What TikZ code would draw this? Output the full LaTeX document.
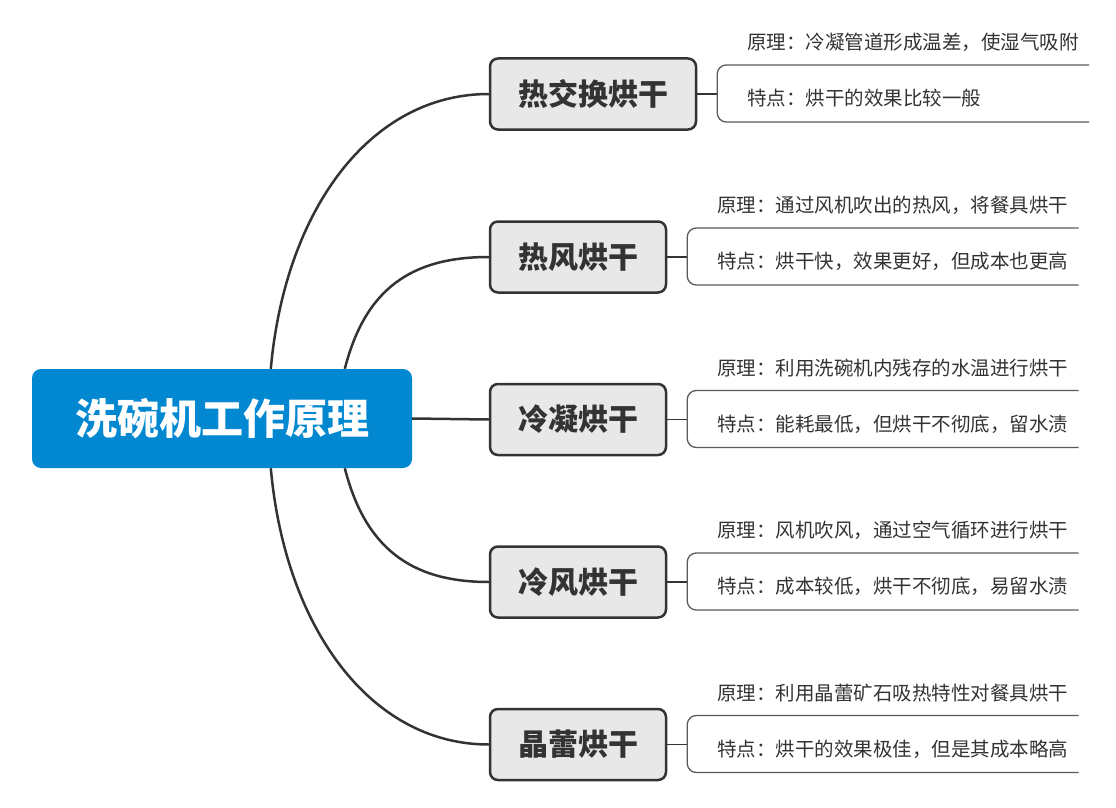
\documentclass[tikz,border=0pt]{standalone}
\usepackage{fontspec}
\setmainfont{Noto Sans CJK SC}
\usetikzlibrary{calc,positioning}
\definecolor{rootblue}{HTML}{0288D1}
\definecolor{branchgrey}{HTML}{E8E8E8}
\definecolor{inkdark}{HTML}{333333}
\definecolor{leafline}{HTML}{5A5A5A}

\begin{document}
\begin{tikzpicture}[x=1pt, y=-1pt,
            root/.style = {fill=rootblue, rounded corners=9pt, minimum width=380pt, minimum height=99pt,
                    text=white, font=\fontsize{42}{50}\selectfont\bfseries},
            branch/.style = {draw=inkdark, line width=2.5pt, fill=branchgrey, rounded corners=8pt,
                    minimum height=71pt, text=inkdark, font=\fontsize{30}{36}\selectfont\bfseries},
            leaf/.style = {anchor=west, inner sep=0pt, text=inkdark, font=\fontsize{19.5}{23}\selectfont},
            link/.style = {draw=inkdark, line width=2.5pt},
            stem/.style = {draw=inkdark, line width=1.6pt},
            brace/.style = {draw=leafline, line width=1.3pt, rounded corners=9pt},
        ]
        \useasboundingbox (0,0) rectangle (1116,808);

        \node[root] (root) at (222,418.5) {洗碗机工作原理};
        \node[branch, minimum width=206pt] (hx) at (593,94) {热交换烘干};
        \node[branch, minimum width=176pt] (rf) at (578,257) {热风烘干};
        \node[branch, minimum width=176pt] (ln) at (578,419.5) {冷凝烘干};
        \node[branch, minimum width=176pt] (lf) at (578,582) {冷风烘干};
        \node[branch, minimum width=176pt] (jl) at (578,744.5) {晶蕾烘干};

        \draw[link] ([xshift=239pt]root.north west) .. controls (285,210) and (370,94) .. (hx.west);
        \draw[link] ([xshift=313pt]root.north west) .. controls (365,290) and (410,257) .. (rf.west);
        \draw[link] (root.east) -- (ln.west);
        \draw[link] ([xshift=313pt]root.south west) .. controls (365,547) and (410,582) .. (lf.west);
        \draw[link] ([xshift=239pt]root.south west) .. controls (285,627) and (370,744.5) .. (jl.west);

        \foreach \b/\yuanli/\tedian in {
                hx/原理：冷凝管道形成温差，使湿气吸附/特点：烘干的效果比较一般,
                rf/原理：通过风机吹出的热风，将餐具烘干/特点：烘干快，效果更好，但成本也更高,
                ln/原理：利用洗碗机内残存的水温进行烘干/特点：能耗最低，但烘干不彻底，留水渍,
                lf/原理：风机吹风，通过空气循环进行烘干/特点：成本较低，烘干不彻底，易留水渍,
                jl/原理：利用晶蕾矿石吸热特性对餐具烘干/特点：烘干的效果极佳，但是其成本略高}
            {
                \node[leaf] (\b-yl) at ($(\b.east)+(50,-51.5)$) {\yuanli};
                \node[leaf] (\b-td) at ($(\b.east)+(50,4.5)$) {\tedian};
                \coordinate (\b-k) at ($(\b.east)+(20,0)$);
                \coordinate (\b-top) at ($(\b-k)+(0,-29)$);
                \coordinate (\b-bot) at ($(\b-k)+(0,28)$);
                \draw[stem] (\b) -- (\b-k);
                \draw[brace] ($(\b-yl.east |- \b-top)+(10,0)$) -- (\b-top) -- (\b-bot)
                    -- ($(\b-yl.east |- \b-bot)+(10,0)$);
            }
    \end{tikzpicture}
\end{document}
